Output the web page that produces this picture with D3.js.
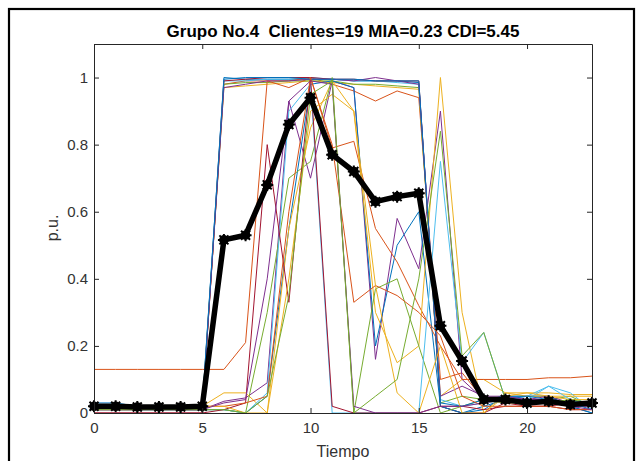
<!DOCTYPE html>
<html><head><meta charset="utf-8">
<script src="https://cdn.jsdelivr.net/npm/d3@7"></script>
<style>body{margin:0;background:#fff} svg{display:block}</style>
</head><body><svg id="c" width="644" height="461"></svg>
<script>
const hours = [0,1,2,3,4,5,6,7,8,9,10,11,12,13,14,15,16,17,18,19,20,21,22,23];
const s01 = [0.02,0.02,0.01,0.01,0.01,0.01,1.00,0.995,0.995,0.995,0.995,0.995,0.99,0.99,0.99,0.985,0.02,0.00,0.01,0.05,0.05,0.05,0.02,0.00];
const s02 = [0.01,0.01,0.01,0.01,0.01,0.01,0.98,0.99,0.99,0.99,1.00,0.98,0.96,0.93,0.96,0.94,0.10,0.12,0.04,0.03,0.04,0.03,0.02,0.02];
const s03 = [0.02,0.02,0.02,0.02,0.02,0.02,0.97,0.975,0.98,0.985,0.99,0.985,0.98,0.975,0.97,0.965,0.05,0.10,0.10,0.06,0.06,0.06,0.055,0.055];
const s04 = [0.01,0.01,0.01,0.01,0.01,0.01,0.035,0.045,0.09,0.93,0.70,0.99,0.97,0.16,0.58,0.43,0.90,0.10,0.04,0.05,0.04,0.04,0.02,0.02];
const s05 = [0.02,0.01,0.01,0.01,0.01,0.01,0.98,0.985,0.985,0.99,0.99,0.99,0.98,0.98,0.975,0.97,0.03,0.05,0.04,0.04,0.02,0.04,0.05,0.02];
const s06 = [0.02,0.02,0.02,0.02,0.02,0.02,0.99,0.99,0.995,0.995,1.00,0.995,0.99,0.99,0.985,0.98,0.04,0.02,0.03,0.04,0.05,0.08,0.06,0.01];
const s07 = [0.00,0.00,0.00,0.00,0.00,0.00,0.99,0.995,1.00,1.00,1.00,0.995,0.995,0.99,0.99,0.99,0.02,0.00,0.00,0.03,0.02,0.02,0.03,0.02];
const s08 = [0.02,0.02,0.01,0.01,0.01,0.01,0.01,0.00,0.05,0.55,0.98,0.99,0.97,0.20,0.50,0.60,0.02,0.00,0.02,0.04,0.05,0.05,0.02,0.00];
const s09 = [0.13,0.13,0.13,0.13,0.13,0.13,0.13,0.21,0.99,0.97,1.00,0.79,0.81,0.55,0.45,0.32,0.20,0.10,0.10,0.10,0.10,0.105,0.105,0.11];
const s10 = [0.02,0.02,0.02,0.02,0.02,0.02,0.06,0.06,0.00,0.55,0.85,0.99,0.90,0.30,0.15,0.20,1.00,0.30,0.00,0.06,0.05,0.05,0.05,0.05];
const s11 = [0.01,0.01,0.01,0.01,0.01,0.01,0.97,0.98,0.99,0.99,0.995,0.995,0.99,1.00,0.99,0.98,0.05,0.08,0.05,0.05,0.04,0.05,0.03,0.02];
const s12 = [0.01,0.01,0.01,0.01,0.01,0.01,0.01,0.00,0.30,0.70,0.75,1.00,0.00,0.37,0.40,0.20,0.00,0.02,0.04,0.03,0.03,0.03,0.04,0.02];
const s13 = [0.01,0.01,0.01,0.01,0.01,0.01,0.01,0.00,0.06,0.90,0.98,0.00,0.00,0.00,0.00,0.00,0.75,0.15,0.24,0.04,0.04,0.08,0.04,0.02];
const s14 = [0.00,0.00,0.00,0.00,0.00,0.00,0.01,0.03,0.80,0.33,1.00,0.02,0.00,0.00,0.00,0.00,0.02,0.02,0.01,0.02,0.02,0.02,0.01,0.01];
const s15 = [0.03,0.03,0.02,0.02,0.02,0.02,0.995,1.00,1.00,1.00,0.995,0.995,0.995,0.99,0.99,0.99,0.03,0.02,0.04,0.05,0.05,0.04,0.03,0.01];
const s16 = [0.02,0.02,0.02,0.02,0.02,0.02,0.02,0.03,0.05,0.60,1.00,0.80,0.33,0.38,0.35,0.30,0.23,0.05,0.02,0.02,0.02,0.02,0.01,0.01];
const s17 = [0.02,0.02,0.02,0.02,0.02,0.02,0.02,0.00,0.00,0.40,0.90,0.95,0.90,0.38,0.06,0.00,0.20,0.00,0.00,0.05,0.06,0.05,0.04,0.04];
const s18 = [0.01,0.01,0.01,0.01,0.01,0.01,0.03,0.04,0.40,0.93,0.99,0.98,0.02,0.00,0.00,0.00,0.02,0.02,0.03,0.04,0.04,0.04,0.02,0.01];
const s19 = [0.01,0.01,0.01,0.01,0.01,0.01,0.01,0.00,0.05,0.35,0.95,0.99,0.00,0.05,0.10,0.40,0.84,0.17,0.24,0.04,0.03,0.03,0.04,0.03];
const meanCurve = [0.02,0.02,0.018,0.018,0.018,0.02,0.516,0.53,0.68,0.86,0.94,0.77,0.72,0.63,0.645,0.655,0.26,0.155,0.04,0.04,0.03,0.035,0.025,0.03];
const clients = [s01,s02,s03,s04,s05,s06,s07,s08,s09,s10,s11,s12,s13,s14,s15,s16,s17,s18,s19];
const colorOrder = ["#0072BD","#D95319","#EDB120","#7E2F8E","#77AC30","#4DBEEE","#A2142F"];
const xTicks = [0,5,10,15,20];
const yTicks = [0,0.2,0.4,0.6,0.8,1];
const titleText = "Grupo No.4  Clientes=19 MIA=0.23 CDI=5.45";
const xLabel = "Tiempo";
const yLabel = "p.u.";

const svg = d3.select("#c");
const L = 94, R = 592, T = 44, B = 413;
const x = d3.scaleLinear().domain([0,23]).range([L,R]);
const y = d3.scaleLinear().domain([0,1.1]).range([B,T]);
const font = "'Liberation Sans', Arial, Helvetica, sans-serif";

svg.append("rect").attr("width",644).attr("height",461).attr("fill","#fff");
svg.append("rect").attr("x",9).attr("y",9).attr("width",625).attr("height",480)
  .attr("fill","none").attr("stroke","#000").attr("stroke-width",2.2);

const line = d3.line().x((d,i)=>x(hours[i])).y(d=>y(d));
const g = svg.append("g");
g.selectAll("path.c").data(clients).join("path").attr("class","c")
  .attr("d",line).attr("fill","none")
  .attr("stroke",(d,i)=>colorOrder[i%7]).attr("stroke-width",1);

g.append("path").datum(meanCurve).attr("d",line).attr("fill","none")
  .attr("stroke","#000").attr("stroke-width",5.5).attr("stroke-linejoin","round");
const mk = g.selectAll("g.m").data(meanCurve).join("g").attr("class","m")
  .attr("transform",(d,i)=>`translate(${x(hours[i])},${y(d)})`);
mk.append("circle").attr("r",4.8).attr("fill","#000");
mk.append("path").attr("d","M-6,0H6M0,-6V6M-4.5,-4.5L4.5,4.5M-4.5,4.5L4.5,-4.5")
  .attr("stroke","#000").attr("stroke-width",2);

function styleAxis(sel){
  sel.selectAll("path.domain").attr("stroke","#262626").attr("stroke-width",1);
  sel.selectAll(".tick line").attr("stroke","#262626");
  sel.selectAll("text").attr("fill","#333").style("font-family",font).style("font-size","15px");
}
const ax = svg.append("g").attr("transform",`translate(0,${B})`)
  .call(d3.axisBottom(x).tickValues(xTicks).tickSizeInner(-5).tickSizeOuter(0).tickPadding(9).tickFormat(d3.format("d")));
styleAxis(ax);
const axT = svg.append("g").attr("transform",`translate(0,${T})`)
  .call(d3.axisTop(x).tickValues(xTicks).tickSizeInner(-5).tickSizeOuter(0).tickFormat(""));
styleAxis(axT);
const ay = svg.append("g").attr("transform",`translate(${L},0)`)
  .call(d3.axisLeft(y).tickValues(yTicks).tickSizeInner(-5).tickSizeOuter(0).tickPadding(6).tickFormat(d=>d===0?"0":d===1?"1":d3.format(".1f")(d)));
styleAxis(ay);
const ayR = svg.append("g").attr("transform",`translate(${R},0)`)
  .call(d3.axisRight(y).tickValues(yTicks).tickSizeInner(-5).tickSizeOuter(0).tickFormat(""));
styleAxis(ayR);

svg.append("text").attr("x",(L+R)/2).attr("y",37).attr("text-anchor","middle")
  .style("font-family",font).style("font-size","17px").style("font-weight","bold")
  .style("white-space","pre").attr("xml:space","preserve").attr("fill","#000").text(titleText);
svg.append("text").attr("x",(L+R)/2).attr("y",457).attr("text-anchor","middle")
  .style("font-family",font).style("font-size","16px").attr("fill","#333").text(xLabel);
svg.append("text").attr("transform",`translate(58,228) rotate(-90)`).attr("text-anchor","middle")
  .style("font-family",font).style("font-size","16px").attr("fill","#333").text(yLabel);
</script></body></html>
